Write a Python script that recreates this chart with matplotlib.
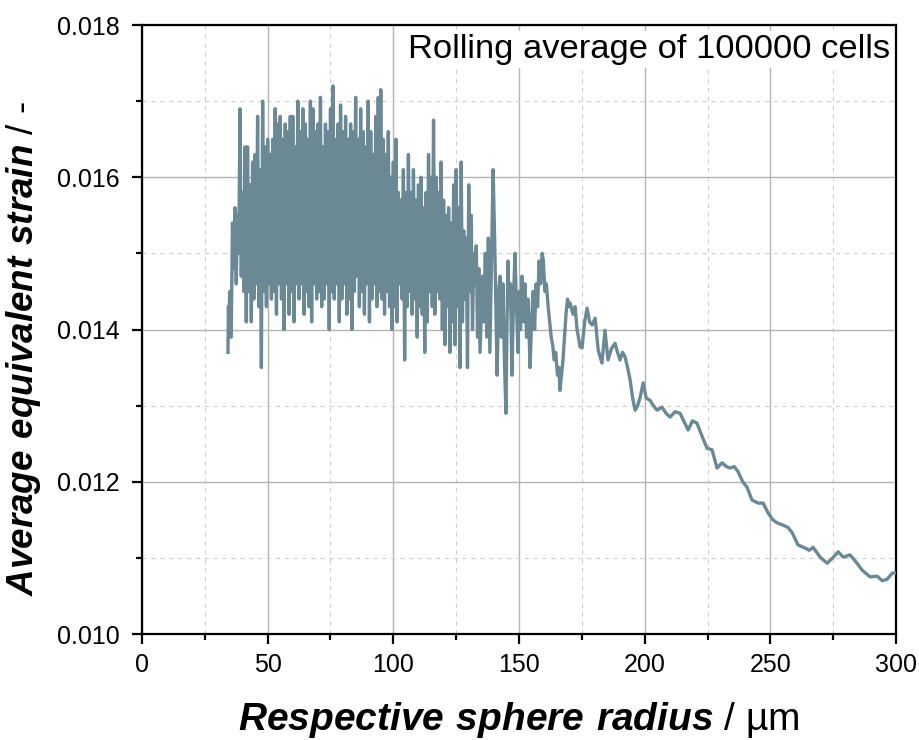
import numpy as np
import matplotlib
matplotlib.use("Agg")
import matplotlib.pyplot as plt
from matplotlib.ticker import MultipleLocator, FormatStrFormatter

plt.rcParams['font.family'] = ['Liberation Sans', 'DejaVu Sans']
plt.rcParams['mathtext.fontset'] = 'custom'
plt.rcParams['mathtext.rm'] = 'Liberation Sans'
plt.rcParams['mathtext.bfit'] = 'Liberation Sans:italic:bold'

# start of the curve
lead_x = [34.2, 34.4, 34.6, 34.8]
lead_y = [0.0137, 0.0143, 0.0139, 0.0144]

# dense part: peaks at 35, 36, ... 134 and troughs half a step later
peak_start = 35.0
peaks = [
    0.0145, 0.0154, 0.0156, 0.0155, 0.0169, 0.0158, 0.0164, 0.0164, 0.0159, 0.0162,
    0.0163, 0.0168, 0.0161, 0.0170, 0.0164, 0.0165, 0.0163, 0.0165, 0.0169, 0.0167,
    0.0168, 0.0165, 0.0167, 0.0166, 0.0168, 0.0168, 0.0164, 0.0170, 0.0166, 0.0169,
    0.0167, 0.0165, 0.0170, 0.0169, 0.0166, 0.0167, 0.01705, 0.0164, 0.0167, 0.0166,
    0.0169, 0.0172, 0.0165, 0.0167, 0.01695, 0.0166, 0.0168, 0.0165, 0.0167, 0.0166,
    0.01705, 0.0165, 0.0169, 0.0166, 0.0164, 0.0170, 0.0166, 0.0163, 0.0168, 0.01705,
    0.01715, 0.0165, 0.0163, 0.0166, 0.0160, 0.0162, 0.0165, 0.0158, 0.0157, 0.0161,
    0.0158, 0.0163, 0.0158, 0.0161, 0.0157, 0.0159, 0.0160, 0.0156, 0.0158, 0.0163,
    0.0160, 0.01675, 0.0160, 0.0158, 0.0162, 0.0157, 0.0155, 0.0156, 0.0154, 0.0159,
    0.0161, 0.0156, 0.0162, 0.0153, 0.0152, 0.0159, 0.0155, 0.0150, 0.0151, 0.0148,
]
troughs = [
    0.0139, 0.0148, 0.0146, 0.0150, 0.0147, 0.0145, 0.0141, 0.0145, 0.0141, 0.0144,
    0.0146, 0.0143, 0.0135, 0.0145, 0.0143, 0.0146, 0.0144, 0.0145, 0.0142, 0.0146,
    0.0144, 0.0140, 0.0146, 0.0142, 0.0145, 0.0141, 0.0146, 0.0144, 0.0146, 0.0142,
    0.0145, 0.0143, 0.0141, 0.0146, 0.0144, 0.0145, 0.0143, 0.0144, 0.0146, 0.0140,
    0.0145, 0.0144, 0.0146, 0.0141, 0.0144, 0.0146, 0.0142, 0.0144, 0.0140, 0.0145,
    0.0147, 0.0143, 0.0145, 0.0142, 0.0146, 0.0141, 0.0144, 0.0146, 0.0143, 0.0145,
    0.0144, 0.0142, 0.0145, 0.0143, 0.0140, 0.0143, 0.0141, 0.0146, 0.0144, 0.0136,
    0.0143, 0.0145, 0.0142, 0.0144, 0.0139, 0.0143, 0.0142, 0.0137, 0.0141, 0.0145,
    0.0143, 0.0142, 0.0145, 0.0144, 0.0140, 0.0138, 0.0143, 0.0137, 0.0141, 0.0138,
    0.0143, 0.0135, 0.0141, 0.0144, 0.0135, 0.0145, 0.0140, 0.0146, 0.0139, 0.0137,
]

# sparser tail
tail_x = [
    135.5, 136.0, 136.6, 137.2, 137.8, 138.4, 139.0, 139.7, 140.3, 140.8,
    141.3, 141.9, 142.5, 143.0, 143.6, 144.2, 144.8, 145.2, 145.6, 146.1,
    146.6, 147.2, 147.8, 148.4, 149.0, 149.6, 150.1, 150.6, 151.2, 151.8,
    152.4, 153.0, 153.6, 154.4, 155.0, 155.6, 156.2, 156.8, 157.4, 158.0,
    158.6, 159.2, 159.7, 160.3, 160.9, 161.6, 162.2, 162.8, 163.4, 164.0,
    164.6, 165.3, 165.9, 166.3, 166.9, 167.5, 168.1, 168.7, 169.3, 169.9,
    170.3, 171.5, 172.3, 173.1, 174.3,
    175.1, 176.1, 177.1, 178.1, 179.1, 180.3, 181.5, 183.0, 184.2, 185.4,
    186.8, 188.2, 189.2, 190.2, 191.2, 192.2, 193.2, 194.2, 195.2, 196.2,
    197.2, 198.2, 199.4, 200.6, 202.1, 203.5, 204.9, 206.9, 208.5, 210.1,
    212.1, 214.1, 215.5, 217.3, 219.0, 220.8, 222.8, 224.8, 226.8, 228.8,
    230.8, 232.5, 234.0, 235.6, 237.2, 239.0, 240.7, 242.7, 245.1, 247.1,
    249.1, 251.0, 252.7, 255.1, 257.0, 258.7, 261.0, 263.8, 265.5, 267.0,
    269.8, 272.6, 274.8, 277.0, 279.0, 281.7, 284.5, 286.5, 289.7, 292.5,
    294.5, 296.5, 298.5, 300.0,
]
tail_y = [
    0.0147, 0.0141, 0.0150, 0.0139, 0.0152, 0.0137, 0.0148, 0.0161, 0.0152, 0.0143,
    0.0134, 0.0145, 0.0147, 0.0139, 0.0146, 0.0136, 0.0129, 0.0140, 0.0149, 0.0143,
    0.0146, 0.0134, 0.0144, 0.0150, 0.0143, 0.0137, 0.0145, 0.0140, 0.0147, 0.0141,
    0.0146, 0.0139, 0.0144, 0.0135, 0.0141, 0.0145, 0.0140, 0.0146, 0.0143, 0.0149,
    0.0146, 0.0150, 0.0149, 0.0145, 0.0146, 0.0143, 0.0141, 0.0139, 0.0138, 0.0136,
    0.0137, 0.0134, 0.0135, 0.0132, 0.0134, 0.0136, 0.0139, 0.0142, 0.0144, 0.0143,
    0.01435, 0.0142, 0.0143, 0.0140, 0.01377,
    0.01376, 0.0141, 0.01428, 0.0141, 0.01406, 0.01415, 0.01373, 0.01356, 0.01399, 0.01360,
    0.01375, 0.01382, 0.0137, 0.01360, 0.0137, 0.01364, 0.0135, 0.01334, 0.0131, 0.01294,
    0.0130, 0.01311, 0.01330, 0.0131, 0.01307, 0.0130, 0.01294, 0.01298, 0.0129, 0.01285,
    0.01292, 0.01290, 0.0128, 0.01268, 0.0128, 0.01277, 0.0126, 0.01244, 0.01242, 0.01218,
    0.01225, 0.0122, 0.01218, 0.0122, 0.01213, 0.0120, 0.01193, 0.01176, 0.01172, 0.01172,
    0.01159, 0.0115, 0.01146, 0.01143, 0.0114, 0.01133, 0.01117, 0.01113, 0.0111, 0.01114,
    0.01101, 0.01093, 0.0110, 0.01108, 0.01101, 0.01104, 0.01093, 0.01084, 0.01075, 0.01076,
    0.0107, 0.01072, 0.0108, 0.0108,
]

line_color = '#6a8995'

# assemble the curve
dense_x = []
dense_y = []
for i, (p, t) in enumerate(zip(peaks, troughs)):
    dense_x += [peak_start + i, peak_start + i + 0.5]
    dense_y += [p, t]

x = np.array(lead_x + dense_x + tail_x)
y = np.array(lead_y + dense_y + tail_y)

fig = plt.figure(figsize=(9.19, 7.40), dpi=100)
ax = fig.add_axes([0.1545, 0.1432, 0.8205, 0.8230])

ax.plot(x, y, color=line_color, lw=2.4, zorder=3)

ax.set_xlim(0, 300)
ax.set_ylim(0.010, 0.018)
ax.xaxis.set_major_locator(MultipleLocator(50))
ax.xaxis.set_minor_locator(MultipleLocator(25))
ax.yaxis.set_major_locator(MultipleLocator(0.002))
ax.yaxis.set_minor_locator(MultipleLocator(0.001))
ax.yaxis.set_major_formatter(FormatStrFormatter('%.3f'))

ax.grid(which='major', color='#b4b4b4', lw=1.0, ls='-')
ax.grid(which='minor', color='#cfcfcf', lw=0.8, ls=(0, (4, 4)))
ax.set_axisbelow(True)

for s in ax.spines.values():
    s.set_linewidth(1.6)
    s.set_color('black')
ax.tick_params(which='major', direction='out', length=7, width=1.6,
               labelsize=18, pad=7)
ax.tick_params(which='minor', direction='out', length=4, width=1.6)
ax.tick_params(axis='y', which='major', pad=9)

ax.set_xlabel(r'$\mathbfit{Respective\ sphere\ radius}$ / µm', fontsize=28, labelpad=16)
ax.set_ylabel(r'$\mathbfit{Average\ equivalent\ strain}$ / -', fontsize=26.5)
ax.yaxis.set_label_coords(-0.131, 0.468)

ax.text(0.992, 0.985, 'Rolling average of 100000 cells', transform=ax.transAxes,
        ha='right', va='top', fontsize=24.8, zorder=4,
        bbox=dict(facecolor='white', edgecolor='none', pad=2))

fig.savefig('out.png', dpi=100)
